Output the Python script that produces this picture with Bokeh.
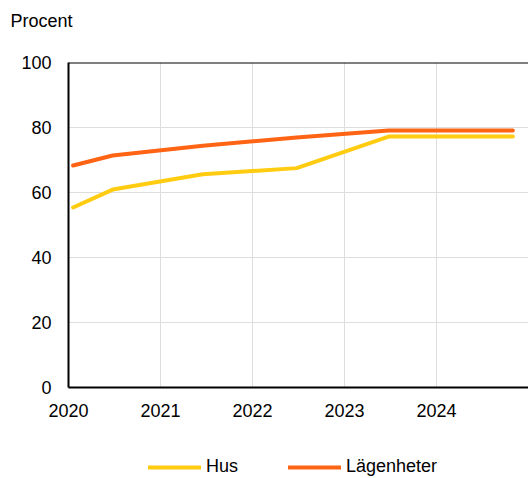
from bokeh.plotting import figure
from bokeh.layouts import column
from bokeh.models import (ColumnDataSource, FixedTicker, Span, Legend,
                          LegendItem, Range1d, Label)
from bokeh.embed import file_html
from bokeh.resources import INLINE

# Share (%) by housing type over time
years = [2020.05, 2020.48, 2021.46, 2022.48, 2023.48, 2024.83]
hus = [55.4, 60.9, 65.6, 67.5, 77.2, 77.2]
lagenheter = [68.3, 71.4, 74.4, 76.9, 79.1, 79.1]
x_ticks = [2020, 2021, 2022, 2023, 2024]
y_ticks = [0, 20, 40, 60, 80, 100]
series_names = ["Hus", "Lägenheter"]
unit_text = "Procent"

FONT = "Liberation Sans"
YELLOW = "#FFCC11"
ORANGE = "#FF6414"

src = ColumnDataSource(dict(x=years, hus=hus, lag=lagenheter))


def strip(height):
    """A blank full-width figure used for text above/below the chart."""
    f = figure(width=528, height=height, output_backend="svg",
               toolbar_location=None, x_range=Range1d(0, 1),
               y_range=Range1d(0, 1), x_axis_type=None, y_axis_type=None,
               min_border=0, min_border_left=0, min_border_right=0,
               min_border_top=0, min_border_bottom=0, frame_align=False)
    f.outline_line_color = None
    f.xgrid.visible = False
    f.ygrid.visible = False
    return f


# Unit caption strip
top = strip(40)
top.add_layout(Label(x=10, y=20, x_units="screen", y_units="screen",
                     text=unit_text, text_font=FONT, text_font_size="18px",
                     text_baseline="middle", text_align="left",
                     text_color="black"))

# Main chart
p = figure(width=528, height=390, output_backend="svg", toolbar_location=None,
           x_range=Range1d(2020, 2025), y_range=Range1d(0, 100),
           min_border_left=68, min_border_right=0, min_border_top=22,
           min_border_bottom=43, frame_align=False)
p.outline_line_color = None
p.background_fill_color = "white"
p.border_fill_color = "white"

for ax in (p.xaxis[0], p.yaxis[0]):
    ax.axis_line_color = "black"
    ax.axis_line_width = 2
    ax.major_tick_line_color = None
    ax.minor_tick_line_color = None
    ax.major_label_text_font = FONT
    ax.major_label_text_font_size = "18px"
    ax.major_label_text_color = "black"

p.xaxis.ticker = FixedTicker(ticks=x_ticks)
p.xaxis.major_label_standoff = 10
p.yaxis.ticker = FixedTicker(ticks=y_ticks)
p.yaxis.major_label_standoff = 11

p.xgrid.ticker = FixedTicker(ticks=x_ticks[1:])
p.ygrid.ticker = FixedTicker(ticks=y_ticks[1:-1])
p.xgrid.grid_line_color = "#dddddd"
p.ygrid.grid_line_color = "#dddddd"

p.add_layout(Span(location=100, dimension="width", line_color="black",
                  line_width=2))

p.line("x", "hus", source=src, line_color=YELLOW, line_width=4,
       line_cap="round", line_join="round")
p.line("x", "lag", source=src, line_color=ORANGE, line_width=4,
       line_cap="round", line_join="round")

# Legend strip; its key lines reuse the series data, which falls outside
# the strip's own unit ranges
leg = strip(48)
k_hus = leg.line("x", "hus", source=src, line_color=YELLOW, line_width=4,
                 line_cap="round")
k_lag = leg.line("x", "lag", source=src, line_color=ORANGE, line_width=4,
                 line_cap="round")
legend = Legend(items=[LegendItem(label=series_names[0], renderers=[k_hus]),
                       LegendItem(label=series_names[1], renderers=[k_lag])],
                orientation="horizontal", location=(148, 1),
                glyph_width=53, glyph_height=20, label_standoff=5, spacing=50,
                padding=0, margin=0, border_line_color=None,
                background_fill_alpha=0, label_text_font=FONT,
                label_text_font_size="18px", label_text_color="black")
leg.add_layout(legend, "center")

layout = column(top, p, leg, spacing=0)
open("out.html", "w").write(file_html(layout, INLINE))
